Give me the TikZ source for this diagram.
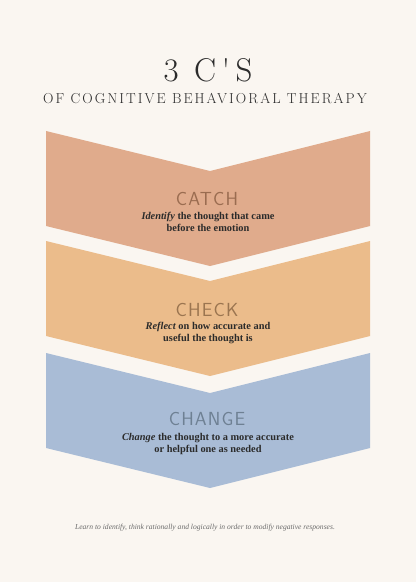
\documentclass[tikz,border=0pt]{standalone}
\usepackage{fontspec}
\setmainfont{Liberation Serif}
\newfontfamily\titlefont{Latin Modern Roman}
\newfontfamily\stepfont{Latin Modern Sans}[LetterSpace=6]
\definecolor{paper}{HTML}{FAF6F1}
\definecolor{catchcol}{HTML}{E0AB8C}
\definecolor{checkcol}{HTML}{EBBC8B}
\definecolor{changecol}{HTML}{A9BCD6}
\definecolor{catchtxt}{HTML}{9A6C50}
\definecolor{checktxt}{HTML}{9B7550}
\definecolor{changetxt}{HTML}{6E8093}
\definecolor{ink}{HTML}{2B2B2B}
\tikzset{
  steplabel/.style={font=\stepfont\fontsize{19}{19}\selectfont, inner sep=0pt},
  steptext/.style={font=\bfseries\fontsize{10.4}{11.5}\selectfont, text=ink, align=center, inner sep=0pt}
}
\begin{document}
\begin{tikzpicture}[x=1bp, y=-1bp]
  % Bakgrunn
  \fill[paper] (0,0) rectangle (416,582);
  \useasboundingbox (0,0) rectangle (416,582);
  % Tittel
  \node[font=\titlefont\fontsize{33}{33}\selectfont\addfontfeatures{LetterSpace=17}, text=ink, inner sep=0pt] (title) at (208,70) {3 C'S};
  \node[font=\titlefont\fontsize{14.5}{14.5}\selectfont\addfontfeatures{LetterSpace=14}, text=ink, inner sep=0pt] (subtitle) at (205,99) {OF COGNITIVE BEHAVIORAL THERAPY};
  % Chevroner
  \foreach \t/\col in {131/catchcol, 241/checkcol, 353/changecol}
    \fill[\col] (46,\t) -- (210,\t+40) -- (370,\t) -- (370,\t+95)
      -- (210,\t+135) -- (46,\t+95) -- cycle;
  % Catch
  \node[steplabel, text=catchtxt] (catch) at (207,199) {CATCH};
  \node[steptext] (catchtext) at (208,222) {\textit{Identify} the thought that came\\before the emotion};
  % Check
  \node[steplabel, text=checktxt] (check) at (207,310) {CHECK};
  \node[steptext] (checktext) at (208,333) {\textit{Reflect} on how accurate and\\useful the thought is};
  % Change
  \node[steplabel, text=changetxt] (change) at (207,419) {CHANGE};
  \node[steptext] (changetext) at (208,444) {\textit{Change} the thought to a more accurate\\or helpful one as needed};
  % Fotnote
  \node[font=\itshape\fontsize{7.6}{8}\selectfont, text=ink!70, inner sep=0pt] (footer) at (205,528)
    {Learn to identify, think rationally and logically in order to modify negative responses.};
\end{tikzpicture}
\end{document}
